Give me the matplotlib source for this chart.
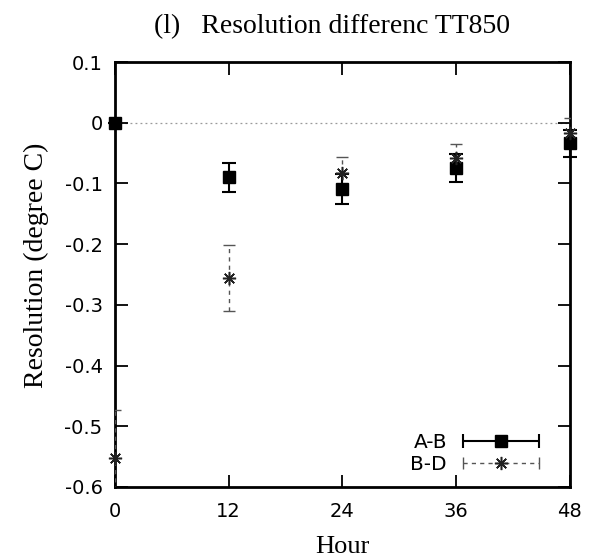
import numpy as np
import matplotlib.pyplot as plt
from matplotlib.container import ErrorbarContainer
from matplotlib.legend_handler import HandlerErrorbar

# values
hours = [0, 12, 24, 36, 48]
ab_mean = [0.0, -0.090, -0.109, -0.075, -0.034]
ab_err = [0.0, 0.024, 0.025, 0.023, 0.022]
bd_mean = [-0.553, -0.256, -0.083, -0.058, -0.017]
bd_err = [0.080, 0.055, 0.026, 0.023, 0.024]

xticks = [0, 12, 24, 36, 48]
yticks = [0.1, 0, -0.1, -0.2, -0.3, -0.4, -0.5, -0.6]

serif = ['Liberation Serif', 'DejaVu Serif']
plt.rcParams['font.family'] = ['DejaVu Sans']

fig = plt.figure(figsize=(5.93, 5.59), dpi=100)
ax = fig.add_axes([0.194, 0.129, 0.767, 0.760])

ax.axhline(0, color='#999999', lw=0.9, ls=(0, (1.5, 2.5)), zorder=1)

ab = ax.errorbar(hours, ab_mean, yerr=ab_err, fmt='s', color='black',
                 ms=9, capsize=5, elinewidth=1.5, capthick=1.5, zorder=4,
                 clip_on=False)
bd = ax.errorbar(hours, bd_mean, yerr=bd_err, fmt='none', ecolor='#555555',
                 capsize=4, elinewidth=1.0, capthick=1.0, zorder=3)
bd[2][0].set_linestyle((0, (3, 3)))
ax.plot(hours, bd_mean, ls='none', marker=(8, 2, 0), ms=9.5, mew=1.1,
        color='#222222', zorder=5, clip_on=False)

ax.set_xlim(0, 48)
ax.set_ylim(-0.6, 0.1)
ax.set_xticks(xticks)
ax.set_yticks(yticks)
ax.set_yticklabels(['0.1', '0', '-0.1', '-0.2', '-0.3', '-0.4', '-0.5', '-0.6'])
ax.tick_params(direction='in', length=9, width=1.3, labelsize=14,
               top=True, right=True)
ax.tick_params(axis='x', pad=11)
ax.tick_params(axis='y', pad=9)
for s in ax.spines.values():
    s.set_linewidth(2)

ax.set_xlabel('Hour', family=serif, fontsize=19, labelpad=11)
ax.set_ylabel('Resolution (degree C)', family=serif, fontsize=20)
ax.yaxis.set_label_coords(-0.145, 0.522)
fig.text(0.56, 0.953, '(l)   Resolution differenc TT850', family=serif,
         fontsize=20, ha='center', va='center')

# legend with horizontal error bars, gnuplot style
ab_h = ErrorbarContainer(ab.lines, has_xerr=True, has_yerr=False, label='A-B')
bd_line = ax.plot([], [], ls='none', marker=(8, 2, 0), ms=9.5, mew=1.1,
                  color='#222222')[0]
bd_h = ErrorbarContainer((bd_line, bd[1], bd[2]), has_xerr=True,
                         has_yerr=False, label='B-D')
ax.legend(handles=[ab_h, bd_h], loc='lower right', frameon=False,
          markerfirst=False, fontsize=14.5, handlelength=3.75,
          handletextpad=0.8, labelspacing=0.15, borderaxespad=0.25,
          borderpad=0.4,
          handler_map={ErrorbarContainer: HandlerErrorbar(xerr_size=1.88)})
ax.get_legend().set_bbox_to_anchor((-0.04, 0.0, 1, 1))

fig.savefig('out.png', dpi=100)
